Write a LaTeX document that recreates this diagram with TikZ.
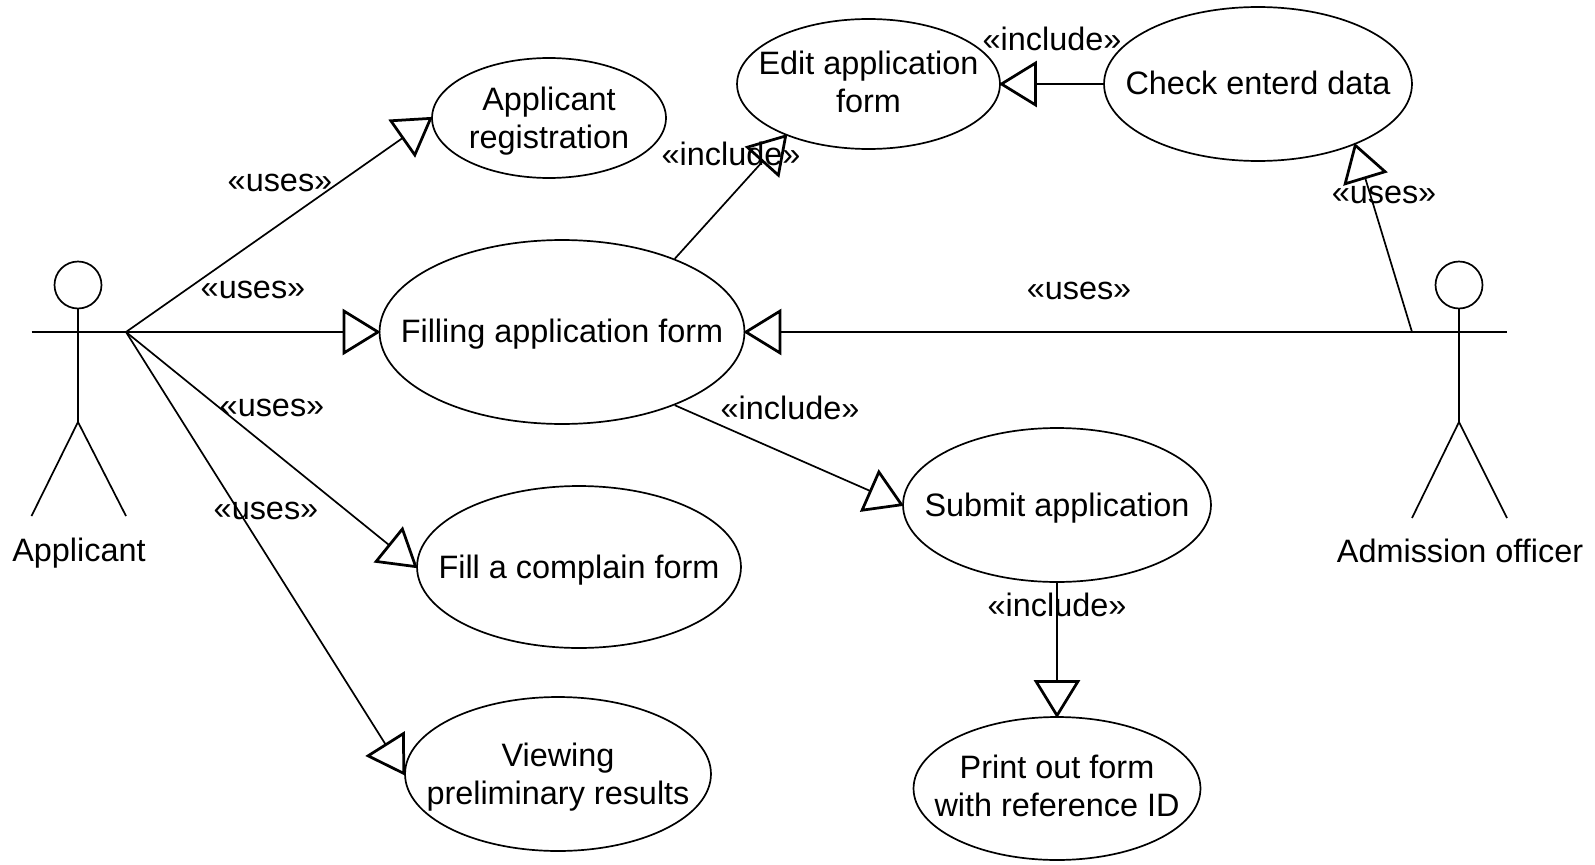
\documentclass[tikz,border=0pt]{standalone}
\usepackage{fontspec}
\setmainfont{Liberation Sans}
\usetikzlibrary{arrows.meta,shapes.geometric}
\tikzset{
  usecase/.style={draw,ellipse,line width=0.034cm,inner sep=-1cm,align=center,text depth=0pt},
  tag/.style={inner sep=0pt,text depth=0pt},
  limb/.style={line width=0.034cm},
  uses/.style={line width=0.034cm,shorten >=-0.04cm,-{Triangle[open,length=0.76cm,width=0.92cm,line width=0.055cm]}},
  head/.style={draw,circle,line width=0.034cm,inner sep=0pt,minimum size=0.94cm}
}
\begin{document}
\begin{tikzpicture}[x=0.02cm,y=-0.02cm]
\useasboundingbox (0,0) rectangle (1595,865);
{\fontsize{18.45}{21.7}\selectfont

% Drawing actor applicant
\node [head] (applicanthead) at (78,285) {};
\coordinate (applicanthip) at (78,422);
\coordinate (applicantleft) at (31.5,332);
\coordinate (applicanthand) at (126,332);
\coordinate (applicantfootl) at (31.5,516);
\coordinate (applicantfootr) at (126,516);
\draw [limb] (applicanthead.south) -- (applicanthip);
\draw [limb] (applicantleft) -- (applicanthand);
\draw [limb] (applicantfootl) -- (applicanthip) -- (applicantfootr);
\node [tag] (applicantname) at (79,550) {Applicant};

% Drawing actor officer
\node [head] (officerhead) at (1459,285) {};
\coordinate (officerhip) at (1459,422);
\coordinate (officerhand) at (1412,332);
\coordinate (officerright) at (1507,332);
\coordinate (officerfootl) at (1412,518);
\coordinate (officerfootr) at (1507,518);
\draw [limb] (officerhead.south) -- (officerhip);
\draw [limb] (officerhand) -- (officerright);
\draw [limb] (officerfootl) -- (officerhip) -- (officerfootr);
\node [tag] (officername) at (1460,551) {Admission officer};

% Drawing use cases
\node [usecase,minimum width=4.68cm,minimum height=2.40cm] (registration) at (549,118) {Applicant\\registration};
\node [usecase,minimum width=5.26cm,minimum height=2.60cm,text depth=0.08cm] (editform) at (868.5,84) {Edit application\\form};
\node [usecase,minimum width=6.16cm,minimum height=3.08cm,text depth=0.04cm] (checkdata) at (1258,84) {Check enterd data};
\node [usecase,minimum width=7.30cm,minimum height=3.68cm,text depth=0.04cm] (fillform) at (562,332) {Filling application form};
\node [usecase,minimum width=6.16cm,minimum height=3.08cm] (submit) at (1057,505) {Submit application};
\node [usecase,minimum width=6.48cm,minimum height=3.24cm] (complain) at (579,567) {Fill a complain form};
\node [usecase,minimum width=6.12cm,minimum height=3.08cm] (viewing) at (558,774) {Viewing\\preliminary results};
\node [usecase,minimum width=5.74cm,minimum height=2.86cm,text depth=0.12cm] (printout) at (1057,788.5) {Print out form\\with reference ID};

% Drawing connectors
\draw [uses] (applicanthand) -- (registration.west);
\draw [uses] (applicanthand) -- (fillform.west);
\draw [uses] (applicanthand) -- (complain.west);
\draw [uses] (applicanthand) -- (viewing.west);
\draw [uses] (officerhand) -- (fillform.east);
\draw [uses] (officerhand) -- (checkdata.-32);
\draw [uses] (checkdata.west) -- (editform.east);
\draw [uses] (fillform.33) -- (editform.212);
\draw [uses] (fillform.-33) -- (submit.west);
\draw [uses] (submit.south) -- (printout.north);

% Marking stereotypes
\node [tag] (usesa) at (280,183) {«uses»};
\node [tag] (usesb) at (253,290) {«uses»};
\node [tag] (usesc) at (272,408) {«uses»};
\node [tag] (usesd) at (266,511) {«uses»};
\node [tag] (usese) at (1079,291) {«uses»};
\node [tag] (usesf) at (1384,195) {«uses»};
\node [tag] (includea) at (1052,39) {«include»};
\node [tag] (includeb) at (731,154) {«include»};
\node [tag] (includec) at (790,408) {«include»};
\node [tag] (included) at (1057,605) {«include»};
}
\end{tikzpicture}
\end{document}
